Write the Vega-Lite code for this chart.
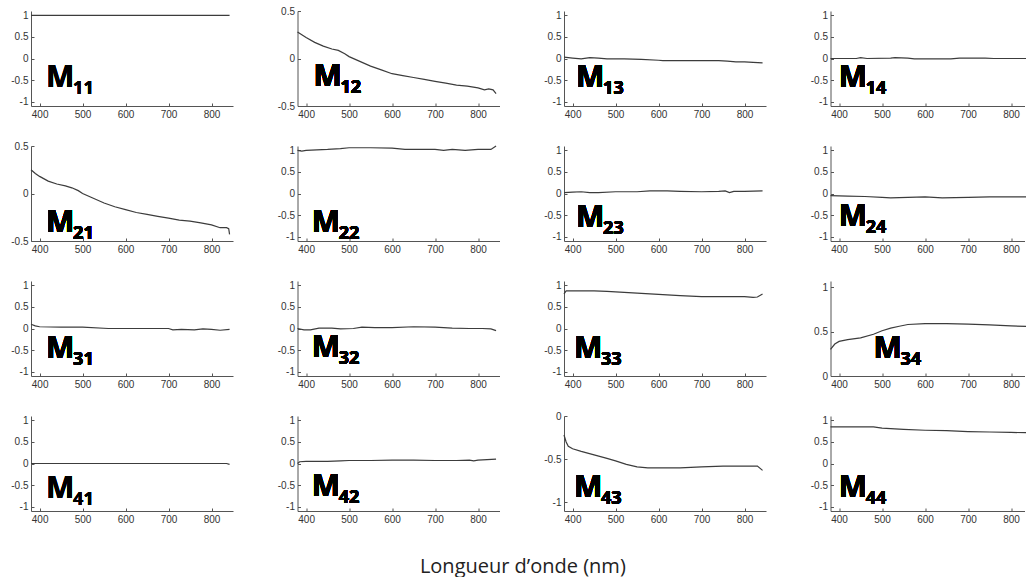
{
  "$schema": "https://vega.github.io/schema/vega-lite/v6.json",
  "background": "white",
  "padding": {"left": 10, "top": 6, "right": 0, "bottom": 0},
  "title": {"text": "Longueur d’onde (nm)", "orient": "bottom", "anchor": "middle", "font": "Open Sans", "fontSize": 20, "fontWeight": "normal", "color": "#222", "offset": 33},
  "config": {
    "view": {"stroke": null},
    "axis": {"grid": false, "domainColor": "#555", "tickColor": "#555", "labelColor": "#333", "labelFont": "Liberation Sans", "labelFontSize": 10, "tickSize": -3, "labelPadding": 6, "title": null, "labelExpr": "'' + datum.value", "labelOverlap": false},
    "line": {"color": "#3c3c3c", "strokeWidth": 1.2, "clip": true},
    "text": {"font": "Open Sans", "fontWeight": "bold", "color": "#000", "align": "left", "baseline": "alphabetic"}
  },
  "datasets": {
    "m11": [{"wl":380,"v":1},{"wl":500,"v":1},{"wl":600,"v":1},{"wl":700,"v":1},{"wl":842,"v":1}],
    "m12": [{"wl":380,"v":0.28},{"wl":390,"v":0.25},{"wl":400,"v":0.22},{"wl":420,"v":0.17},{"wl":440,"v":0.13},{"wl":460,"v":0.1},{"wl":475,"v":0.085},{"wl":490,"v":0.05},{"wl":500,"v":0.02},{"wl":525,"v":-0.03},{"wl":550,"v":-0.08},{"wl":575,"v":-0.12},{"wl":600,"v":-0.16},{"wl":625,"v":-0.18},{"wl":650,"v":-0.2},{"wl":675,"v":-0.22},{"wl":700,"v":-0.24},{"wl":725,"v":-0.26},{"wl":750,"v":-0.28},{"wl":775,"v":-0.29},{"wl":800,"v":-0.31},{"wl":815,"v":-0.33},{"wl":825,"v":-0.32},{"wl":835,"v":-0.33},{"wl":842,"v":-0.37}],
    "m13": [{"wl":380,"v":0.03},{"wl":400,"v":0.01},{"wl":420,"v":-0.01},{"wl":440,"v":0.02},{"wl":460,"v":0.01},{"wl":480,"v":-0.01},{"wl":520,"v":-0.01},{"wl":560,"v":-0.02},{"wl":600,"v":-0.04},{"wl":610,"v":-0.05},{"wl":650,"v":-0.05},{"wl":700,"v":-0.05},{"wl":740,"v":-0.05},{"wl":760,"v":-0.06},{"wl":780,"v":-0.08},{"wl":800,"v":-0.08},{"wl":820,"v":-0.09},{"wl":842,"v":-0.1}],
    "m14": [{"wl":380,"v":0},{"wl":440,"v":0},{"wl":450,"v":0.02},{"wl":465,"v":0},{"wl":520,"v":0.01},{"wl":530,"v":0.02},{"wl":560,"v":0.01},{"wl":575,"v":-0.01},{"wl":660,"v":-0.01},{"wl":680,"v":0.01},{"wl":740,"v":0.01},{"wl":760,"v":0},{"wl":800,"v":0},{"wl":850,"v":0}],
    "m21": [{"wl":380,"v":0.25},{"wl":390,"v":0.21},{"wl":400,"v":0.18},{"wl":420,"v":0.13},{"wl":440,"v":0.1},{"wl":460,"v":0.08},{"wl":475,"v":0.06},{"wl":490,"v":0.03},{"wl":500,"v":0},{"wl":525,"v":-0.05},{"wl":550,"v":-0.1},{"wl":575,"v":-0.14},{"wl":600,"v":-0.17},{"wl":625,"v":-0.2},{"wl":650,"v":-0.22},{"wl":675,"v":-0.24},{"wl":700,"v":-0.26},{"wl":725,"v":-0.28},{"wl":750,"v":-0.29},{"wl":775,"v":-0.31},{"wl":800,"v":-0.33},{"wl":820,"v":-0.36},{"wl":835,"v":-0.36},{"wl":840,"v":-0.37},{"wl":842,"v":-0.43}],
    "m22": [{"wl":380,"v":1},{"wl":390,"v":0.98},{"wl":400,"v":1},{"wl":450,"v":1.02},{"wl":480,"v":1.04},{"wl":500,"v":1.06},{"wl":550,"v":1.06},{"wl":600,"v":1.05},{"wl":630,"v":1.02},{"wl":700,"v":1.02},{"wl":720,"v":1},{"wl":740,"v":1.02},{"wl":770,"v":1},{"wl":800,"v":1.02},{"wl":830,"v":1.02},{"wl":842,"v":1.1}],
    "m23": [{"wl":380,"v":0.02},{"wl":400,"v":0.03},{"wl":420,"v":0.04},{"wl":440,"v":0.02},{"wl":460,"v":0.02},{"wl":500,"v":0.04},{"wl":550,"v":0.04},{"wl":580,"v":0.06},{"wl":620,"v":0.06},{"wl":650,"v":0.05},{"wl":700,"v":0.04},{"wl":740,"v":0.05},{"wl":755,"v":0.06},{"wl":765,"v":0.02},{"wl":775,"v":0.05},{"wl":800,"v":0.05},{"wl":842,"v":0.06}],
    "m24": [{"wl":380,"v":-0.05},{"wl":420,"v":-0.06},{"wl":460,"v":-0.07},{"wl":500,"v":-0.09},{"wl":520,"v":-0.1},{"wl":560,"v":-0.09},{"wl":600,"v":-0.08},{"wl":640,"v":-0.1},{"wl":700,"v":-0.09},{"wl":750,"v":-0.08},{"wl":800,"v":-0.08},{"wl":850,"v":-0.08}],
    "m31": [{"wl":380,"v":0.1},{"wl":390,"v":0.06},{"wl":400,"v":0.04},{"wl":450,"v":0.03},{"wl":500,"v":0.03},{"wl":560,"v":0},{"wl":650,"v":0},{"wl":700,"v":0},{"wl":710,"v":-0.03},{"wl":730,"v":-0.02},{"wl":760,"v":-0.03},{"wl":780,"v":-0.01},{"wl":800,"v":-0.02},{"wl":820,"v":-0.04},{"wl":842,"v":-0.02}],
    "m32": [{"wl":380,"v":0},{"wl":395,"v":-0.03},{"wl":410,"v":-0.03},{"wl":430,"v":0.01},{"wl":460,"v":0.01},{"wl":480,"v":-0.01},{"wl":510,"v":0},{"wl":530,"v":0.03},{"wl":560,"v":0.02},{"wl":600,"v":0.02},{"wl":650,"v":0.04},{"wl":700,"v":0.03},{"wl":740,"v":0.01},{"wl":780,"v":0},{"wl":810,"v":0},{"wl":830,"v":-0.01},{"wl":842,"v":-0.05}],
    "m33": [{"wl":380,"v":0.8},{"wl":385,"v":0.87},{"wl":400,"v":0.87},{"wl":450,"v":0.87},{"wl":480,"v":0.86},{"wl":500,"v":0.85},{"wl":550,"v":0.82},{"wl":600,"v":0.79},{"wl":650,"v":0.76},{"wl":700,"v":0.74},{"wl":750,"v":0.74},{"wl":800,"v":0.74},{"wl":820,"v":0.72},{"wl":830,"v":0.73},{"wl":842,"v":0.8}],
    "m34": [{"wl":380,"v":0.3},{"wl":390,"v":0.36},{"wl":400,"v":0.39},{"wl":420,"v":0.41},{"wl":450,"v":0.43},{"wl":480,"v":0.47},{"wl":500,"v":0.51},{"wl":520,"v":0.54},{"wl":540,"v":0.56},{"wl":560,"v":0.58},{"wl":600,"v":0.59},{"wl":650,"v":0.59},{"wl":700,"v":0.585},{"wl":750,"v":0.575},{"wl":800,"v":0.565},{"wl":850,"v":0.555}],
    "m41": [{"wl":380,"v":0},{"wl":500,"v":0},{"wl":700,"v":0},{"wl":835,"v":0},{"wl":842,"v":-0.02}],
    "m42": [{"wl":380,"v":0},{"wl":385,"v":0.04},{"wl":400,"v":0.05},{"wl":450,"v":0.05},{"wl":480,"v":0.06},{"wl":500,"v":0.07},{"wl":550,"v":0.07},{"wl":600,"v":0.08},{"wl":650,"v":0.08},{"wl":700,"v":0.07},{"wl":750,"v":0.07},{"wl":780,"v":0.08},{"wl":790,"v":0.06},{"wl":800,"v":0.08},{"wl":842,"v":0.1}],
    "m43": [{"wl":380,"v":-0.22},{"wl":385,"v":-0.3},{"wl":390,"v":-0.35},{"wl":400,"v":-0.38},{"wl":420,"v":-0.41},{"wl":450,"v":-0.45},{"wl":480,"v":-0.49},{"wl":500,"v":-0.52},{"wl":525,"v":-0.56},{"wl":550,"v":-0.59},{"wl":575,"v":-0.6},{"wl":600,"v":-0.6},{"wl":650,"v":-0.6},{"wl":700,"v":-0.59},{"wl":750,"v":-0.58},{"wl":800,"v":-0.58},{"wl":830,"v":-0.58},{"wl":842,"v":-0.63}],
    "m44": [{"wl":380,"v":0.85},{"wl":400,"v":0.85},{"wl":450,"v":0.85},{"wl":480,"v":0.85},{"wl":500,"v":0.82},{"wl":550,"v":0.79},{"wl":600,"v":0.77},{"wl":650,"v":0.76},{"wl":700,"v":0.74},{"wl":750,"v":0.73},{"wl":800,"v":0.72},{"wl":850,"v":0.71}]
  },
  "columns": 4,
  "spacing": {"row": 40, "column": 64.5},
  "bounds": "flush",
  "concat": [
      {"width": 202, "height": 95, "data": {"name": "m11"}, "layer": [
        {"mark": "line", "encoding": {"x": {"field": "wl", "type": "quantitative", "scale": {"domain": [380, 850], "nice": false, "zero": false}, "axis": {"values": [400,500,600,700,800]}}, "y": {"field": "v", "type": "quantitative", "scale": {"domain": [-1.1, 1.1], "nice": false, "zero": false}, "axis": {"values": [-1,-0.5,0,0.5,1]}}}},
        {"mark": {"type": "text", "text": "M", "fontSize": 30}, "encoding": {"x": {"datum": 415, "axis": {"values": [400,500,600,700,800]}}, "y": {"datum": -0.66, "axis": {"values": [-1,-0.5,0,0.5,1]}}}},
        {"mark": {"type": "text", "text": "11", "fontSize": 18}, "encoding": {"x": {"datum": 478, "axis": {"values": [400,500,600,700,800]}}, "y": {"datum": -0.82, "axis": {"values": [-1,-0.5,0,0.5,1]}}}}
      ]},
      {"width": 202, "height": 95, "data": {"name": "m12"}, "layer": [
        {"mark": "line", "encoding": {"x": {"field": "wl", "type": "quantitative", "scale": {"domain": [380, 850], "nice": false, "zero": false}, "axis": {"values": [400,500,600,700,800]}}, "y": {"field": "v", "type": "quantitative", "scale": {"domain": [-0.5, 0.5], "nice": false, "zero": false}, "axis": {"values": [-0.5,0,0.5]}}}},
        {"mark": {"type": "text", "text": "M", "fontSize": 30}, "encoding": {"x": {"datum": 417, "axis": {"values": [400,500,600,700,800]}}, "y": {"datum": -0.29, "axis": {"values": [-0.5,0,0.5]}}}},
        {"mark": {"type": "text", "text": "12", "fontSize": 18}, "encoding": {"x": {"datum": 480, "axis": {"values": [400,500,600,700,800]}}, "y": {"datum": -0.364, "axis": {"values": [-0.5,0,0.5]}}}}
      ]},
      {"width": 202, "height": 95, "data": {"name": "m13"}, "layer": [
        {"mark": "line", "encoding": {"x": {"field": "wl", "type": "quantitative", "scale": {"domain": [380, 850], "nice": false, "zero": false}, "axis": {"values": [400,500,600,700,800]}}, "y": {"field": "v", "type": "quantitative", "scale": {"domain": [-1.1, 1.1], "nice": false, "zero": false}, "axis": {"values": [-1,-0.5,0,0.5,1]}}}},
        {"mark": {"type": "text", "text": "M", "fontSize": 30}, "encoding": {"x": {"datum": 408, "axis": {"values": [400,500,600,700,800]}}, "y": {"datum": -0.66, "axis": {"values": [-1,-0.5,0,0.5,1]}}}},
        {"mark": {"type": "text", "text": "13", "fontSize": 18}, "encoding": {"x": {"datum": 471, "axis": {"values": [400,500,600,700,800]}}, "y": {"datum": -0.82, "axis": {"values": [-1,-0.5,0,0.5,1]}}}}
      ]},
      {"width": 194, "height": 95, "data": {"name": "m14"}, "layer": [
        {"mark": "line", "encoding": {"x": {"field": "wl", "type": "quantitative", "scale": {"domain": [380, 831.4], "nice": false, "zero": false}, "axis": {"values": [400,500,600,700,800]}}, "y": {"field": "v", "type": "quantitative", "scale": {"domain": [-1.1, 1.1], "nice": false, "zero": false}, "axis": {"values": [-1,-0.5,0,0.5,1]}}}},
        {"mark": {"type": "text", "text": "M", "fontSize": 30}, "encoding": {"x": {"datum": 399, "axis": {"values": [400,500,600,700,800]}}, "y": {"datum": -0.66, "axis": {"values": [-1,-0.5,0,0.5,1]}}}},
        {"mark": {"type": "text", "text": "14", "fontSize": 18}, "encoding": {"x": {"datum": 462, "axis": {"values": [400,500,600,700,800]}}, "y": {"datum": -0.82, "axis": {"values": [-1,-0.5,0,0.5,1]}}}}
      ]},
      {"width": 202, "height": 95, "data": {"name": "m21"}, "layer": [
        {"mark": "line", "encoding": {"x": {"field": "wl", "type": "quantitative", "scale": {"domain": [380, 850], "nice": false, "zero": false}, "axis": {"values": [400,500,600,700,800]}}, "y": {"field": "v", "type": "quantitative", "scale": {"domain": [-0.5, 0.5], "nice": false, "zero": false}, "axis": {"values": [-0.5,0,0.5]}}}},
        {"mark": {"type": "text", "text": "M", "fontSize": 30}, "encoding": {"x": {"datum": 415, "axis": {"values": [400,500,600,700,800]}}, "y": {"datum": -0.405, "axis": {"values": [-0.5,0,0.5]}}}},
        {"mark": {"type": "text", "text": "21", "fontSize": 18}, "encoding": {"x": {"datum": 478, "axis": {"values": [400,500,600,700,800]}}, "y": {"datum": -0.479, "axis": {"values": [-0.5,0,0.5]}}}}
      ]},
      {"width": 202, "height": 95, "data": {"name": "m22"}, "layer": [
        {"mark": "line", "encoding": {"x": {"field": "wl", "type": "quantitative", "scale": {"domain": [380, 850], "nice": false, "zero": false}, "axis": {"values": [400,500,600,700,800]}}, "y": {"field": "v", "type": "quantitative", "scale": {"domain": [-1.1, 1.1], "nice": false, "zero": false}, "axis": {"values": [-1,-0.5,0,0.5,1]}}}},
        {"mark": {"type": "text", "text": "M", "fontSize": 30}, "encoding": {"x": {"datum": 413, "axis": {"values": [400,500,600,700,800]}}, "y": {"datum": -0.89, "axis": {"values": [-1,-0.5,0,0.5,1]}}}},
        {"mark": {"type": "text", "text": "22", "fontSize": 18}, "encoding": {"x": {"datum": 476, "axis": {"values": [400,500,600,700,800]}}, "y": {"datum": -1.05, "axis": {"values": [-1,-0.5,0,0.5,1]}}}}
      ]},
      {"width": 202, "height": 95, "data": {"name": "m23"}, "layer": [
        {"mark": "line", "encoding": {"x": {"field": "wl", "type": "quantitative", "scale": {"domain": [380, 850], "nice": false, "zero": false}, "axis": {"values": [400,500,600,700,800]}}, "y": {"field": "v", "type": "quantitative", "scale": {"domain": [-1.1, 1.1], "nice": false, "zero": false}, "axis": {"values": [-1,-0.5,0,0.5,1]}}}},
        {"mark": {"type": "text", "text": "M", "fontSize": 30}, "encoding": {"x": {"datum": 408, "axis": {"values": [400,500,600,700,800]}}, "y": {"datum": -0.78, "axis": {"values": [-1,-0.5,0,0.5,1]}}}},
        {"mark": {"type": "text", "text": "23", "fontSize": 18}, "encoding": {"x": {"datum": 471, "axis": {"values": [400,500,600,700,800]}}, "y": {"datum": -0.94, "axis": {"values": [-1,-0.5,0,0.5,1]}}}}
      ]},
      {"width": 194, "height": 95, "data": {"name": "m24"}, "layer": [
        {"mark": "line", "encoding": {"x": {"field": "wl", "type": "quantitative", "scale": {"domain": [380, 831.4], "nice": false, "zero": false}, "axis": {"values": [400,500,600,700,800]}}, "y": {"field": "v", "type": "quantitative", "scale": {"domain": [-1.1, 1.1], "nice": false, "zero": false}, "axis": {"values": [-1,-0.5,0,0.5,1]}}}},
        {"mark": {"type": "text", "text": "M", "fontSize": 30}, "encoding": {"x": {"datum": 399, "axis": {"values": [400,500,600,700,800]}}, "y": {"datum": -0.75, "axis": {"values": [-1,-0.5,0,0.5,1]}}}},
        {"mark": {"type": "text", "text": "24", "fontSize": 18}, "encoding": {"x": {"datum": 462, "axis": {"values": [400,500,600,700,800]}}, "y": {"datum": -0.91, "axis": {"values": [-1,-0.5,0,0.5,1]}}}}
      ]},
      {"width": 202, "height": 95, "data": {"name": "m31"}, "layer": [
        {"mark": "line", "encoding": {"x": {"field": "wl", "type": "quantitative", "scale": {"domain": [380, 850], "nice": false, "zero": false}, "axis": {"values": [400,500,600,700,800]}}, "y": {"field": "v", "type": "quantitative", "scale": {"domain": [-1.1, 1.1], "nice": false, "zero": false}, "axis": {"values": [-1,-0.5,0,0.5,1]}}}},
        {"mark": {"type": "text", "text": "M", "fontSize": 30}, "encoding": {"x": {"datum": 415, "axis": {"values": [400,500,600,700,800]}}, "y": {"datum": -0.68, "axis": {"values": [-1,-0.5,0,0.5,1]}}}},
        {"mark": {"type": "text", "text": "31", "fontSize": 18}, "encoding": {"x": {"datum": 478, "axis": {"values": [400,500,600,700,800]}}, "y": {"datum": -0.84, "axis": {"values": [-1,-0.5,0,0.5,1]}}}}
      ]},
      {"width": 202, "height": 95, "data": {"name": "m32"}, "layer": [
        {"mark": "line", "encoding": {"x": {"field": "wl", "type": "quantitative", "scale": {"domain": [380, 850], "nice": false, "zero": false}, "axis": {"values": [400,500,600,700,800]}}, "y": {"field": "v", "type": "quantitative", "scale": {"domain": [-1.1, 1.1], "nice": false, "zero": false}, "axis": {"values": [-1,-0.5,0,0.5,1]}}}},
        {"mark": {"type": "text", "text": "M", "fontSize": 30}, "encoding": {"x": {"datum": 413, "axis": {"values": [400,500,600,700,800]}}, "y": {"datum": -0.66, "axis": {"values": [-1,-0.5,0,0.5,1]}}}},
        {"mark": {"type": "text", "text": "32", "fontSize": 18}, "encoding": {"x": {"datum": 476, "axis": {"values": [400,500,600,700,800]}}, "y": {"datum": -0.82, "axis": {"values": [-1,-0.5,0,0.5,1]}}}}
      ]},
      {"width": 202, "height": 95, "data": {"name": "m33"}, "layer": [
        {"mark": "line", "encoding": {"x": {"field": "wl", "type": "quantitative", "scale": {"domain": [380, 850], "nice": false, "zero": false}, "axis": {"values": [400,500,600,700,800]}}, "y": {"field": "v", "type": "quantitative", "scale": {"domain": [-1.1, 1.1], "nice": false, "zero": false}, "axis": {"values": [-1,-0.5,0,0.5,1]}}}},
        {"mark": {"type": "text", "text": "M", "fontSize": 30}, "encoding": {"x": {"datum": 403, "axis": {"values": [400,500,600,700,800]}}, "y": {"datum": -0.68, "axis": {"values": [-1,-0.5,0,0.5,1]}}}},
        {"mark": {"type": "text", "text": "33", "fontSize": 18}, "encoding": {"x": {"datum": 466, "axis": {"values": [400,500,600,700,800]}}, "y": {"datum": -0.84, "axis": {"values": [-1,-0.5,0,0.5,1]}}}}
      ]},
      {"width": 194, "height": 95, "data": {"name": "m34"}, "layer": [
        {"mark": "line", "encoding": {"x": {"field": "wl", "type": "quantitative", "scale": {"domain": [380, 831.4], "nice": false, "zero": false}, "axis": {"values": [400,500,600,700,800]}}, "y": {"field": "v", "type": "quantitative", "scale": {"domain": [0, 1.07], "nice": false, "zero": false}, "axis": {"values": [0,0.5,1]}}}},
        {"mark": {"type": "text", "text": "M", "fontSize": 30}, "encoding": {"x": {"datum": 480, "axis": {"values": [400,500,600,700,800]}}, "y": {"datum": 0.2, "axis": {"values": [0,0.5,1]}}}},
        {"mark": {"type": "text", "text": "34", "fontSize": 18}, "encoding": {"x": {"datum": 543, "axis": {"values": [400,500,600,700,800]}}, "y": {"datum": 0.121, "axis": {"values": [0,0.5,1]}}}}
      ]},
      {"width": 202, "height": 95, "data": {"name": "m41"}, "layer": [
        {"mark": "line", "encoding": {"x": {"field": "wl", "type": "quantitative", "scale": {"domain": [380, 850], "nice": false, "zero": false}, "axis": {"values": [400,500,600,700,800]}}, "y": {"field": "v", "type": "quantitative", "scale": {"domain": [-1.1, 1.1], "nice": false, "zero": false}, "axis": {"values": [-1,-0.5,0,0.5,1]}}}},
        {"mark": {"type": "text", "text": "M", "fontSize": 30}, "encoding": {"x": {"datum": 415, "axis": {"values": [400,500,600,700,800]}}, "y": {"datum": -0.8, "axis": {"values": [-1,-0.5,0,0.5,1]}}}},
        {"mark": {"type": "text", "text": "41", "fontSize": 18}, "encoding": {"x": {"datum": 478, "axis": {"values": [400,500,600,700,800]}}, "y": {"datum": -0.96, "axis": {"values": [-1,-0.5,0,0.5,1]}}}}
      ]},
      {"width": 202, "height": 95, "data": {"name": "m42"}, "layer": [
        {"mark": "line", "encoding": {"x": {"field": "wl", "type": "quantitative", "scale": {"domain": [380, 850], "nice": false, "zero": false}, "axis": {"values": [400,500,600,700,800]}}, "y": {"field": "v", "type": "quantitative", "scale": {"domain": [-1.1, 1.1], "nice": false, "zero": false}, "axis": {"values": [-1,-0.5,0,0.5,1]}}}},
        {"mark": {"type": "text", "text": "M", "fontSize": 30}, "encoding": {"x": {"datum": 413, "axis": {"values": [400,500,600,700,800]}}, "y": {"datum": -0.75, "axis": {"values": [-1,-0.5,0,0.5,1]}}}},
        {"mark": {"type": "text", "text": "42", "fontSize": 18}, "encoding": {"x": {"datum": 476, "axis": {"values": [400,500,600,700,800]}}, "y": {"datum": -0.91, "axis": {"values": [-1,-0.5,0,0.5,1]}}}}
      ]},
      {"width": 202, "height": 95, "data": {"name": "m43"}, "layer": [
        {"mark": "line", "encoding": {"x": {"field": "wl", "type": "quantitative", "scale": {"domain": [380, 850], "nice": false, "zero": false}, "axis": {"values": [400,500,600,700,800]}}, "y": {"field": "v", "type": "quantitative", "scale": {"domain": [-1.1, 0], "nice": false, "zero": false}, "axis": {"values": [-1,-0.5,0]}}}},
        {"mark": {"type": "text", "text": "M", "fontSize": 30}, "encoding": {"x": {"datum": 403, "axis": {"values": [400,500,600,700,800]}}, "y": {"datum": -0.94, "axis": {"values": [-1,-0.5,0]}}}},
        {"mark": {"type": "text", "text": "43", "fontSize": 18}, "encoding": {"x": {"datum": 466, "axis": {"values": [400,500,600,700,800]}}, "y": {"datum": -1.021, "axis": {"values": [-1,-0.5,0]}}}}
      ]},
      {"width": 194, "height": 95, "data": {"name": "m44"}, "layer": [
        {"mark": "line", "encoding": {"x": {"field": "wl", "type": "quantitative", "scale": {"domain": [380, 831.4], "nice": false, "zero": false}, "axis": {"values": [400,500,600,700,800]}}, "y": {"field": "v", "type": "quantitative", "scale": {"domain": [-1.1, 1.1], "nice": false, "zero": false}, "axis": {"values": [-1,-0.5,0,0.5,1]}}}},
        {"mark": {"type": "text", "text": "M", "fontSize": 30}, "encoding": {"x": {"datum": 399, "axis": {"values": [400,500,600,700,800]}}, "y": {"datum": -0.78, "axis": {"values": [-1,-0.5,0,0.5,1]}}}},
        {"mark": {"type": "text", "text": "44", "fontSize": 18}, "encoding": {"x": {"datum": 462, "axis": {"values": [400,500,600,700,800]}}, "y": {"datum": -0.94, "axis": {"values": [-1,-0.5,0,0.5,1]}}}}
      ]}
  ]
}
